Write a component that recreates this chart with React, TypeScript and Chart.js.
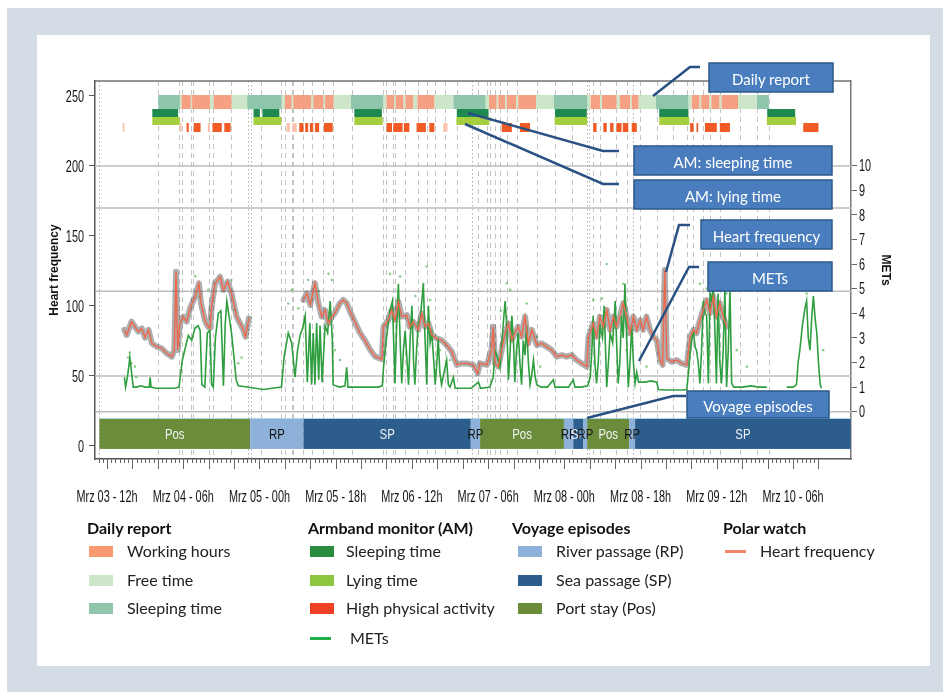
import React, { useEffect, useRef } from 'react';
import { Chart, registerables } from 'chart.js';

Chart.register(...registerables);

// ---------------- data ----------------
// time axis: hours since Mrz 03 00:00
const xLabelHours = [12, 30, 48, 66, 84, 102, 120, 138, 156, 174];
const xLabelTexts = ['Mrz 03 - 12h', 'Mrz 04 - 06h', 'Mrz 05 - 00h', 'Mrz 05 - 18h', 'Mrz 06 - 12h', 'Mrz 07 - 06h', 'Mrz 08 - 00h', 'Mrz 08 - 18h', 'Mrz 09 - 12h', 'Mrz 10 - 06h'];
const hrTicks = [0, 50, 100, 150, 200, 250];
const metTicks = [0, 1, 2, 3, 4, 5, 6, 7, 8, 9, 10];
const referenceLines = [24.5, 50, 110.5, 170, 200];

// Polar watch heart frequency [hour, bpm]; null = no recording
const hrPoints: ([number, number] | null)[] = [
  [16.1, 83], [16.65, 79.3], [17.2, 84], [17.8, 88.8], [18.6, 85.2], [19.4, 81.7], [20.2, 84], [21, 77.4], [21.8, 83], [22.6, 73.3],
  [23.7, 71], [24.9, 69.8], [26.1, 66.2], [27.3, 63.8], [27.9, 68.6], [28.3, 124.5], [28.7, 68.6], [29.2, 87.6], [30, 92.4], [30.8, 88.8],
  [31.6, 98.3], [32.8, 106.7], [33.7, 116.2], [34.2, 102], [35.1, 90], [35.7, 86], [36.3, 84], [36.7, 99.5], [37.5, 116], [38.7, 120.9],
  [39.5, 111.4], [40.5, 117.4], [41.4, 109], [42.6, 92.4], [44.2, 83], [44.7, 78.1], [45.5, 91.2],
  null,
  [58.4, 104.3], [59.2, 109], [60, 100.7], [61.1, 116.2], [61.9, 102], [62.7, 92.4], [63.5, 97], [64.3, 87.6], [65.1, 92.4], [65.8, 94.8],
  [67, 102], [67.8, 104.3], [68.6, 102], [69.4, 96], [70.6, 88], [71.7, 81], [72.9, 75.5], [74.1, 69], [75.3, 64], [76.9, 62],
  [77.3, 85.2], [78.4, 90], [79.2, 97.1], [80, 90], [80.8, 103.1], [81.6, 92.4], [82.8, 93.5], [83.5, 85.2], [84.3, 88.8], [85.5, 83],
  [86.3, 94.8], [87.1, 85.2], [87.9, 87.6], [88.7, 79.3], [89.8, 76.9], [91, 75.7], [92.2, 72.1], [93.4, 67.4], [94.6, 57.9], [95.7, 59],
  [96.9, 59], [98.5, 57.9], [99.5, 52], [100.1, 59], [101.7, 57.9], [102.8, 68.6], [103.2, 85.2], [103.6, 59], [104.4, 56.7], [105.2, 68.6],
  [106, 80.5], [106.8, 87.6], [107.6, 75.7], [108.3, 80.5], [109.1, 85.2], [109.9, 78.1], [110.7, 92.4], [111.5, 73.3], [112.3, 83], [113.5, 72.1],
  [114.6, 73.3], [115.8, 71], [117, 68.6], [118.2, 63.8], [119.4, 65], [120.5, 63.8], [121.7, 65], [122.9, 61.4], [124.1, 59], [125.3, 56.7],
  [125.7, 78.1], [126.05, 80.5], [126.8, 87.6], [127.6, 78.1], [128.4, 92.4], [129.2, 85.2], [130, 97.1], [130.8, 83], [131.6, 92.4], [132.3, 85.2],
  [133.1, 92.4], [133.9, 102], [134.7, 92.4], [135.5, 80.5], [136.3, 92.4], [137.1, 83], [137.9, 90], [138.6, 83], [139.4, 92.4], [140.2, 83],
  [141, 78.1], [141.8, 75.7], [142.6, 61.4], [143.2, 57.9], [143.7, 125.7], [144.2, 62.6], [145.3, 60.2], [146.5, 61.4], [147.7, 59], [148.9, 57.9],
  [149.7, 78.1], [150.5, 83], [151.2, 80.5], [152, 90], [152.8, 97.1], [153.6, 104.3], [154.4, 95], [155.2, 106.7], [155.9, 92.4], [156.7, 102],
  [157.5, 92.4], [158.3, 85.2],
];

// Armband monitor METs [hour, MET]; null = no recording
const metPoints: ([number, number] | null)[] = [
  [16.1, 1.4], [16.4, 1.0], [16.9, 1.5], [17.4, 2.2], [17.8, 1.6], [18.2, 1.0], [19, 1.0], [20, 1.05], [21, 1.0], [22.0, 1.0],
  [22.2, 1.4], [22.4, 1.0], [23.5, 0.95], [25, 0.95], [26.5, 0.95], [28, 0.95], [29.0, 1.0], [29.8, 2.1], [30.5, 2.6], [31.2, 3.1],
  [32, 2.9], [32.8, 3.4], [33.5, 3.5], [34, 3.3], [34.4, 1.1], [35.1, 1.0], [35.7, 3.2], [36.3, 3.3], [36.7, 1.1], [37.1, 1.0],
  [37.6, 3.0], [38.3, 4.0], [38.9, 4.1], [39.5, 1.05], [39.9, 3.5], [40.3, 4.5], [40.8, 3.9], [41.4, 3.2], [42.0, 2.2], [42.5, 1.3],
  [43, 1.05], [45, 1.0], [47, 0.95], [49, 0.9], [51, 0.95], [53.2, 1.0], [53.8, 2.2], [54.8, 3.2], [55.6, 2.8], [56.4, 1.4],
  [57.0, 2.5], [57.6, 3.1], [58.2, 3.4], [58.8, 3.9], [59.3, 1.2], [59.9, 3.6], [60.3, 1.1], [60.7, 3.2], [61.1, 1.1], [61.5, 3.6],
  [62.0, 1.3], [62.3, 3.5], [62.8, 1.2], [63.5, 3.5], [64.1, 3.2], [64.7, 4.5], [65.2, 3.0], [65.4, 1.1], [66, 1.05], [67, 1.0],
  [68.2, 1.05], [68.6, 1.8], [68.9, 1.0], [70, 1.0], [72, 1.0], [74, 1.0], [76, 1.0], [77.0, 1.05], [77.3, 1.8], [78.0, 3.0],
  [78.8, 4.1], [79.4, 4.5], [80, 1.15], [80.4, 3.5], [80.8, 5.2], [81.3, 2.5], [81.6, 1.15], [82.0, 2.5], [82.4, 3.3], [82.8, 2.2],
  [83.2, 1.1], [83.6, 3.0], [84, 4.3], [84.4, 2.0], [84.7, 1.1], [85.1, 2.5], [85.5, 3.6], [86.0, 3.8], [86.7, 5.2], [87.1, 3.0],
  [87.5, 1.1], [87.9, 4.3], [88.3, 2.8], [88.7, 3.2], [89.1, 2.2], [89.5, 1.1], [89.9, 2.0], [90.2, 3.0], [90.6, 1.6], [91, 1.1],
  [91.6, 1.6], [92.2, 2.1], [92.6, 1.1], [93, 1.0], [93.8, 1.4], [94.2, 0.95], [96, 0.95], [98, 0.95], [99.7, 1.2], [100.2, 0.95],
  [102.4, 1.0], [103.2, 1.4], [103.6, 2.5], [104.2, 2.2], [104.8, 1.8], [105.4, 3.2], [106, 4.5], [106.4, 3.5], [106.8, 1.3], [107.2, 2.5],
  [107.6, 3.9], [108, 2.8], [108.3, 1.2], [108.7, 2.5], [109.1, 3.2], [109.5, 2.0], [109.9, 1.1], [110.3, 2.9], [110.7, 2.3], [111.1, 3.5],
  [111.5, 2.0], [111.9, 1.1], [112.3, 1.5], [112.7, 2.1], [113.1, 1.4], [113.5, 1.1], [114.5, 1.0], [116, 1.0], [117.4, 1.3], [117.8, 1.0],
  [119.5, 1.0], [121, 1.0], [122.1, 1.3], [122.5, 1.0], [124, 1.0], [125.5, 1.05], [126.1, 1.4], [126.5, 2.5], [126.8, 3.9], [127.2, 2.0],
  [127.6, 1.15], [128.0, 2.0], [128.4, 3.5], [129, 3.0], [129.4, 4.3], [130, 1.0], [130.4, 2.0], [130.8, 3.2], [131.4, 2.8], [132, 4.5],
  [132.4, 2.5], [132.7, 1.15], [133.1, 2.0], [133.5, 3.9], [133.9, 3.0], [134.3, 5.2], [134.7, 3.0], [135.1, 1.0], [135.5, 2.0], [135.9, 3.5],
  [136.3, 2.0], [136.7, 1.15], [137.1, 1.6], [137.5, 1.2], [139, 1.2], [140.5, 1.25], [141.8, 1.2], [142.2, 0.9], [144, 0.88], [146, 0.88],
  [148, 0.88], [148.9, 0.9], [149.3, 1.6], [149.7, 2.4], [150.1, 3.0], [150.5, 3.2], [150.9, 2.6], [151.2, 2.5], [151.6, 2.0], [152, 1.15],
  [152.4, 2.5], [152.8, 4.5], [153.2, 4.0], [153.6, 3.9], [154, 1.15], [154.4, 4.8], [154.8, 4.5], [155.2, 5.2], [155.6, 3.0], [155.9, 1.15],
  [156.3, 4.8], [156.7, 2.0], [157.1, 1.15], [157.5, 2.5], [157.9, 5.0], [158.3, 1.0], [158.7, 2.5], [159.1, 5.0], [159.5, 1.15], [160, 1.0],
  [162, 1.0], [164, 1.05], [166, 1.0], [167.8, 1.0],
  null,
  [172.5, 1.0], [174, 1.0], [174.8, 1.1], [175.2, 2.0], [175.6, 2.5], [176.2, 3.5], [176.8, 4.2], [177.2, 4.5], [177.6, 3.0], [178, 2.5],
  [178.4, 3.8], [178.8, 4.7], [179.2, 3.8], [179.6, 3.2], [180, 2.0], [180.4, 1.1], [180.7, 0.95],
];

// single METs readings scattered around the trace [hour, MET]
const metScatter: [number, number][] = [
  [17.0, 2.2], [17.8, 1.97], [18.6, 1.83], [17.4, 2.4], [18.9, 1.4], [32.8, 5.5], [34, 4.68], [35.9, 4.95], [41.4, 5.35], [42.2, 4.13],
  [43, 1.97], [43.8, 2.2], [54.8, 4.4], [55.6, 4.95], [59.5, 5.35], [64.3, 5.6], [65.1, 5.35], [65.8, 2.5], [67, 2.1], [78.8, 5.6],
  [81.2, 5.49], [87.5, 5.9], [86.7, 5.2], [88.3, 4.54], [90.6, 2.5], [93, 2.1], [106.4, 5.22], [107.2, 4.95], [111.1, 4.4], [113.5, 3.05],
  [114.3, 1.83], [126.8, 4.54], [130, 6.0], [133.9, 5.2], [134.7, 2.5], [139.4, 1.83], [152, 5.2], [153.6, 5.0], [158.3, 4.8], [160.7, 2.5],
  [163.1, 1.83], [177.2, 4.8], [179.6, 5.2], [181.1, 2.5], [57.2, 4.2], [62.1, 4.9], [84.8, 4.7], [105, 4.1], [128.9, 4.6], [156, 5.6],
];

// Daily report [start hour, end hour]
const dailyWorking: [number, number][] = [
  [29.6, 31.8], [32.1, 36.3], [37.2, 41.4], [54.0, 55.6], [56.0, 60.2], [60.7, 63.1], [63.5, 65.5], [78.0, 79.8], [80.2, 82.0], [82.5, 84.3],
  [85.3, 89.3], [102.2, 104.0], [104.4, 106.0], [106.4, 108.6], [109.1, 113.3], [126.2, 128.4], [128.9, 132.3], [133.1, 135.5], [135.9, 137.5],
  [150.1, 151.9], [152.3, 154.2], [154.7, 156.6], [157.1, 161.0],
];
const dailyFree: [number, number][] = [
  [29.2, 29.6], [31.8, 32.1], [36.3, 37.2], [41.4, 45.1], [53.2, 54.0], [55.6, 56.0], [60.2, 60.7], [63.1, 63.5], [65.5, 69.6], [77.2, 78.0],
  [79.8, 80.2], [82.0, 82.5], [84.3, 85.3], [89.3, 93.8], [101.4, 102.2], [104.0, 104.4], [106.0, 106.4], [108.6, 109.1], [113.3, 117.5],
  [125.4, 126.2], [128.4, 128.9], [132.3, 133.1], [135.5, 135.9], [137.5, 141.6], [149.3, 150.1], [151.9, 152.3], [154.2, 154.7], [156.6, 157.1],
  [161.0, 165.5],
];
const dailySleeping: [number, number][] = [
  [24.1, 29.2], [45.1, 53.2], [69.6, 77.2], [93.8, 101.4], [117.5, 125.4], [141.6, 149.3], [165.5, 168.3],
];

// Armband monitor [start hour, end hour]
const amSleeping: [number, number][] = [
  [22.7, 28.8], [46.6, 48.1], [48.7, 52.7], [70.4, 76.9], [94.6, 102.1], [117.8, 125.3], [142.4, 149.3], [167.9, 174.5],
];
const amLying: [number, number][] = [
  [22.7, 29.2], [46.6, 53.2], [70.4, 77.1], [94.5, 102.3], [117.7, 125.4], [142.4, 149.5], [167.8, 174.7],
];
const activityStrong: [number, number][] = [
  [30.8, 31.3], [32.5, 34.1], [36.9, 39.1], [39.7, 41.2], [57.4, 58.4], [58.8, 59.5], [59.9, 60.7], [61.1, 62.1], [63.2, 65.3],
  [78.0, 79.3], [79.6, 81.8], [82.1, 83.4], [85.1, 87.3], [88.1, 89.3], [105.2, 107.6], [109.5, 111.9], [126.8, 127.6], [129.2, 130.0],
  [130.8, 131.6], [132.3, 133.5], [133.8, 135.1], [135.9, 137.1], [149.7, 150.5], [151.2, 151.6], [153.2, 156.0], [156.7, 159.1], [176.4, 180.0],
];
const activityFaint: [number, number][] = [
  [15.7, 16.1], [29.2, 29.6], [35.8, 36.3], [54.4, 55.2], [55.8, 56.8], [91.4, 92.4],
];

// Voyage episodes
const voyageKinds = ['Pos', 'RP', 'SP', 'RP', 'Pos', 'RP', 'SP', 'RP', 'Pos', 'RP', 'SP'];
const voyageStarts = [10.2, 45.8, 58.4, 97.9, 100.1, 119.9, 122.1, 124.5, 125.4, 135.3, 136.7];
const voyageEnds = [45.8, 58.4, 97.9, 100.1, 119.9, 122.1, 124.5, 125.4, 135.3, 136.7, 187.6];

// vertical event markers (hours)
const eventHoursDashed = [
  24.1, 29.1, 29.6, 31.8, 32.2, 36.2, 37, 41.4, 48.3, 53.2, 54, 55.6, 56, 58.4, 60.3, 63.1, 65.4, 69.8, 77.2, 78, 79.6, 80,
  82.4, 85.5, 87.5, 89.4, 91.8, 94.6, 99.7, 101.7, 102.4, 103.6, 104.8, 106.4, 108.7, 113.5, 117.8, 121.7, 126.8, 128.4,
  132.3, 134.7, 137.9, 141.8, 145.7, 148.9, 150.4, 152.8, 154.4, 156.7, 161.5, 165.4, 168.2,
];
const eventHoursDotted = [10, 45.4, 45.9, 98.1, 125.4, 125.9, 136.3];

// ---------------- styling ----------------
const SANS = '"Liberation Sans", Arial, sans-serif';
const HUMAN = 'Lato, "Open Sans", "Noto Sans", sans-serif';
const NARROW_FACTOR = 0.64;

const ROW = {
  daily: [240.7, 250.7],
  amSleep: [235, 240.7],
  amLying: [229.3, 235],
  activity: [224.3, 230.7],
  voyage: [-2.1, 19.3],
};
const VOYAGE_COLORS: Record<string, string> = { Pos: '#6b8c3a', RP: '#8db1d8', SP: '#2c5d8c' };

const toXY = (pts: ([number, number] | null)[]) =>
  pts.map((p, i) => {
    if (p) return { x: p[0], y: p[1] };
    const a = pts[i - 1] as [number, number];
    const b = pts[i + 1] as [number, number];
    return { x: (a[0] + b[0]) / 2, y: null as any };
  });

// draws condensed text (the original figure uses a narrow, tall face)
const narrowText = (ctx: any, text: string, x: number, y: number, align: string, factor = NARROW_FACTOR) => {
  ctx.save();
  ctx.translate(x, y);
  ctx.scale(factor, 1);
  ctx.textAlign = align;
  ctx.fillText(text, 0, 0);
  ctx.restore();
};

const timelinePlugin = {
  id: 'timelineBands',
  beforeDatasetsDraw(chart: any) {
    const { ctx, chartArea: a, scales } = chart;
    const px = (h: number) => scales.x.getPixelForValue(h);
    const py = (v: number) => scales.y.getPixelForValue(v);
    ctx.save();
    ctx.beginPath();
    ctx.rect(a.left, a.top, a.right - a.left, a.bottom - a.top);
    ctx.clip();

    // reference lines
    ctx.strokeStyle = '#bdbdbd';
    ctx.lineWidth = 1.5;
    referenceLines.forEach((v) => {
      const Y = py(v);
      ctx.beginPath();
      ctx.moveTo(a.left, Y);
      ctx.lineTo(a.right, Y);
      ctx.stroke();
    });

    // event markers
    ctx.lineWidth = 1;
    ctx.strokeStyle = '#c4c4c4';
    ctx.setLineDash([5, 4]);
    eventHoursDashed.forEach((h) => {
      const X = Math.round(px(h)) + 0.5;
      ctx.beginPath();
      ctx.moveTo(X, a.top);
      ctx.lineTo(X, a.bottom);
      ctx.stroke();
    });
    ctx.strokeStyle = '#b0b0b0';
    ctx.setLineDash([1.5, 2.5]);
    eventHoursDotted.forEach((h) => {
      const X = Math.round(px(h)) + 0.5;
      ctx.beginPath();
      ctx.moveTo(X, a.top);
      ctx.lineTo(X, a.bottom);
      ctx.stroke();
    });
    ctx.setLineDash([]);

    const band = (segs: [number, number][], row: number[], color: string) => {
      ctx.fillStyle = color;
      segs.forEach(([s, e]) => {
        const x0 = px(s);
        const x1 = px(e);
        const y0 = py(row[1]);
        const y1 = py(row[0]);
        ctx.fillRect(x0, y0, x1 - x0, y1 - y0);
      });
    };
    band(dailyFree, ROW.daily, '#cde6c9');
    band(dailyWorking, ROW.daily, '#f6a083');
    band(dailySleeping, ROW.daily, '#8fc6ab');
    band(amLying, ROW.amLying, '#a5cf3f');
    band(amSleeping, ROW.amSleep, '#1f8a4f');
    band(activityFaint, ROW.activity, '#fbc3ae');
    band(activityStrong, ROW.activity, '#f15a24');

    voyageKinds.forEach((k, i) => band([[voyageStarts[i], voyageEnds[i]]], ROW.voyage, VOYAGE_COLORS[k]));
    ctx.strokeStyle = '#aad7ea';
    ctx.lineWidth = 1;
    ctx.beginPath();
    ctx.moveTo(px(voyageStarts[0]), py(ROW.voyage[1]) - 0.5);
    ctx.lineTo(px(voyageEnds[voyageEnds.length - 1]), py(ROW.voyage[1]) - 0.5);
    ctx.stroke();

    ctx.font = `15px ${SANS}`;
    ctx.textBaseline = 'middle';
    voyageKinds.forEach((k, i) => {
      ctx.fillStyle = k === 'RP' ? '#151515' : '#eef2f5';
      narrowText(ctx, k, (px(voyageStarts[i]) + px(voyageEnds[i])) / 2, py((ROW.voyage[0] + ROW.voyage[1]) / 2) + 1, 'center', 0.76);
    });
    ctx.restore();
  },
  afterDraw(chart: any) {
    const { ctx, chartArea: a, scales } = chart;
    const px = (h: number) => scales.x.getPixelForValue(h);
    ctx.save();
    ctx.strokeStyle = '#707070';
    ctx.lineWidth = 1.5;
    ctx.beginPath();
    ctx.moveTo(a.left, a.top);
    ctx.lineTo(a.right, a.top);
    ctx.stroke();
    ctx.strokeStyle = '#666';
    ctx.lineWidth = 1;
    for (let h = 10; h <= 180; h++) {
      const X = Math.round(px(h)) + 0.5;
      const len = h % 6 === 0 ? 10 : 4;
      ctx.beginPath();
      ctx.moveTo(X, a.bottom);
      ctx.lineTo(X, a.bottom + len);
      ctx.stroke();
    }

    // tick labels (condensed)
    ctx.fillStyle = '#151515';
    ctx.textBaseline = 'middle';
    ctx.font = `17px ${SANS}`;
    xLabelHours.forEach((h, i) => narrowText(ctx, xLabelTexts[i], px(h), a.bottom + 38, 'center'));
    hrTicks.forEach((v) => narrowText(ctx, String(v), a.left - 11, scales.y.getPixelForValue(v) + 1, 'right'));
    metTicks.forEach((v) => narrowText(ctx, String(v), a.right + 8, scales.y2.getPixelForValue(v) + 1, 'left'));
    ctx.restore();
  },
};

const callouts = [
  { text: 'Daily report', box: [709, 63, 124, 29], path: [[700, 67], [690, 67], [653, 96]] },
  { text: 'AM: sleeping time', box: [634, 146, 198, 29], path: [[468, 113], [603, 151], [619, 151]] },
  { text: 'AM: lying time', box: [634, 180, 198, 29], path: [[465, 124], [603, 184], [619, 184]] },
  { text: 'Heart frequency', box: [701, 220, 131, 29], path: [[666, 272], [679, 225], [690, 225]] },
  { text: 'METs', box: [708, 262, 124, 29], path: [[639, 361], [689, 267], [699, 267]] },
  { text: 'Voyage episodes', box: [687, 391, 142, 27], path: [[587, 418], [673, 396], [686, 396]] },
];

type LegendItem = { label: string; color: string; kind: 'box' | 'line' };
const legendColumns: { title: string; x: number; swatchX: number; textX: number; items: LegendItem[] }[] = [
  {
    title: 'Daily report', x: 87, swatchX: 89, textX: 127,
    items: [
      { label: 'Working hours', color: '#f79a72', kind: 'box' },
      { label: 'Free time', color: '#cde6c9', kind: 'box' },
      { label: 'Sleeping time', color: '#8fc6ab', kind: 'box' },
    ],
  },
  {
    title: 'Armband monitor (AM)', x: 308, swatchX: 310, textX: 346,
    items: [
      { label: 'Sleeping time', color: '#2a8c3e', kind: 'box' },
      { label: 'Lying time', color: '#8dc63f', kind: 'box' },
      { label: 'High physical activity', color: '#ee4125', kind: 'box' },
      { label: 'METs', color: '#1fb14b', kind: 'line' },
    ],
  },
  {
    title: 'Voyage episodes', x: 512, swatchX: 518, textX: 556,
    items: [
      { label: 'River passage (RP)', color: '#8db1d8', kind: 'box' },
      { label: 'Sea passage (SP)', color: '#2c5d8c', kind: 'box' },
      { label: 'Port stay (Pos)', color: '#6b8c3a', kind: 'box' },
    ],
  },
  {
    title: 'Polar watch', x: 723, swatchX: 725, textX: 760,
    items: [{ label: 'Heart frequency', color: '#f4846a', kind: 'line' }],
  },
];
const legendRowsY = [551, 580, 608, 638];

export default function App() {
  const canvasRef = useRef<HTMLCanvasElement>(null);

  useEffect(() => {
    const canvas = canvasRef.current;
    if (!canvas) return;
    const chart = new Chart(canvas, {
      type: 'line',
      data: {
        datasets: [
          {
            label: 'Heart frequency',
            data: toXY(hrPoints) as any,
            yAxisID: 'y',
            borderColor: '#f0674c',
            borderWidth: 1.4,
            pointRadius: 0,
            spanGaps: false,
            order: 0,
          },
          {
            label: 'METs',
            data: toXY(metPoints) as any,
            yAxisID: 'y2',
            borderColor: '#2f9e3f',
            borderWidth: 1.6,
            pointRadius: 0,
            spanGaps: false,
            order: 1,
          },
          {
            label: 'Heart frequency raw',
            data: toXY(hrPoints) as any,
            yAxisID: 'y',
            borderColor: 'rgba(30,30,30,0.36)',
            borderWidth: 6,
            borderJoinStyle: 'round',
            borderCapStyle: 'round',
            pointRadius: 0,
            spanGaps: false,
            order: 2,
          },
          {
            type: 'scatter',
            label: 'METs readings',
            data: metScatter.map(([x, y]) => ({ x, y })) as any,
            yAxisID: 'y2',
            showLine: false,
            pointRadius: 1.3,
            pointBorderWidth: 0,
            pointBackgroundColor: 'rgba(70,175,70,0.6)',
            order: 3,
          } as any,
        ],
      },
      options: {
        responsive: false,
        animation: false,
        devicePixelRatio: 1,
        events: [],
        layout: { padding: { top: 81, left: 0, right: 0, bottom: 0 } },
        plugins: { legend: { display: false }, tooltip: { enabled: false }, title: { display: false } },
        scales: {
          x: {
            type: 'linear',
            position: 'bottom',
            min: 9.17,
            max: 187.68,
            afterBuildTicks: (s: any) => {
              s.ticks = xLabelHours.map((v) => ({ value: v }));
            },
            afterFit: (s: any) => {
              s.height = 233;
            },
            ticks: { display: false },
            grid: { display: false, drawTicks: false },
            border: { display: true, color: '#555', width: 1.5 },
          },
          y: {
            type: 'linear',
            position: 'left',
            min: -9.29,
            max: 260.71,
            afterBuildTicks: (s: any) => {
              s.ticks = hrTicks.map((v) => ({ value: v }));
            },
            afterFit: (s: any) => {
              s.width = 95;
            },
            ticks: { display: false },
            grid: { display: true, drawOnChartArea: false, drawTicks: true, tickLength: 6, color: '#555', tickColor: '#555' },
            border: { display: true, color: '#555', width: 1.5 },
            title: {
              display: true,
              text: 'Heart frequency',
              color: '#111',
              font: { family: SANS, size: 12, weight: 'bold' },
              padding: { top: 47, bottom: 0 },
            },
          },
          y2: {
            type: 'linear',
            position: 'right',
            min: -1.923,
            max: 13.44,
            afterBuildTicks: (s: any) => {
              s.ticks = metTicks.map((v) => ({ value: v }));
            },
            afterFit: (s: any) => {
              s.width = 92;
            },
            ticks: { display: false },
            grid: { display: true, drawOnChartArea: false, drawTicks: true, tickLength: 6, color: '#666', tickColor: '#666' },
            border: { display: true, color: '#777', width: 1.5 },
            title: {
              display: true,
              text: 'METs',
              color: '#111',
              font: { family: SANS, size: 12, weight: 'bold' },
              padding: { top: 50, bottom: 0 },
            },
          },
        },
      } as any,
      plugins: [timelinePlugin],
    });
    return () => chart.destroy();
  }, []);

  return (
    <div style={{ position: 'fixed', left: 0, top: 0, width: 943, height: 692, overflow: 'hidden', background: '#fff' }}>
      <div style={{ position: 'absolute', left: 7, top: 8, right: 0, bottom: 0, background: '#d4dce5' }} />
      <div style={{ position: 'absolute', left: 37, top: 35, width: 893, height: 631, background: '#ffffff' }} />
      <canvas ref={canvasRef} width={943} height={692} style={{ position: 'absolute', left: 0, top: 0, width: 943, height: 692 }} />
      <svg width={943} height={692} style={{ position: 'absolute', left: 0, top: 0 }}>
        {callouts.map((c) => (
          <g key={c.text}>
            <polyline
              points={c.path.map((p) => p.join(',')).join(' ')}
              fill="none"
              stroke="#2a5183"
              strokeWidth={2.5}
            />
            <rect x={c.box[0]} y={c.box[1]} width={c.box[2]} height={c.box[3]} fill="#4a7dbd" stroke="#2d5a8a" strokeWidth={1.5} />
            <text
              x={c.box[0] + c.box[2] / 2}
              y={c.box[1] + c.box[3] / 2 + 1}
              fill="#ffffff"
              fontFamily={HUMAN}
              fontSize={15}
              textAnchor="middle"
              dominantBaseline="central"
            >
              {c.text}
            </text>
          </g>
        ))}
      </svg>
      {legendColumns.map((col) => (
        <React.Fragment key={col.title}>
          <div
            style={{
              position: 'absolute', left: col.x, top: 518, lineHeight: '20px', whiteSpace: 'nowrap',
              fontFamily: HUMAN, fontSize: 16, fontWeight: 700, color: '#111',
            }}
          >
            {col.title}
          </div>
          {col.items.map((it, i) => {
            const cy = legendRowsY[i];
            return (
              <React.Fragment key={it.label}>
                {it.kind === 'box' ? (
                  <div style={{ position: 'absolute', left: col.swatchX, top: cy - 5, width: 24, height: 11, background: it.color }} />
                ) : (
                  <div style={{ position: 'absolute', left: col.swatchX, top: cy - 1, width: 21, height: 2.5, background: it.color }} />
                )}
                <div
                  style={{
                    position: 'absolute', left: it.kind === 'line' && col.x < 400 ? col.textX + 4 : col.textX, top: cy - 10,
                    lineHeight: '20px', whiteSpace: 'nowrap', fontFamily: HUMAN, fontSize: 16, color: '#222',
                  }}
                >
                  {it.label}
                </div>
              </React.Fragment>
            );
          })}
        </React.Fragment>
      ))}
    </div>
  );
}
